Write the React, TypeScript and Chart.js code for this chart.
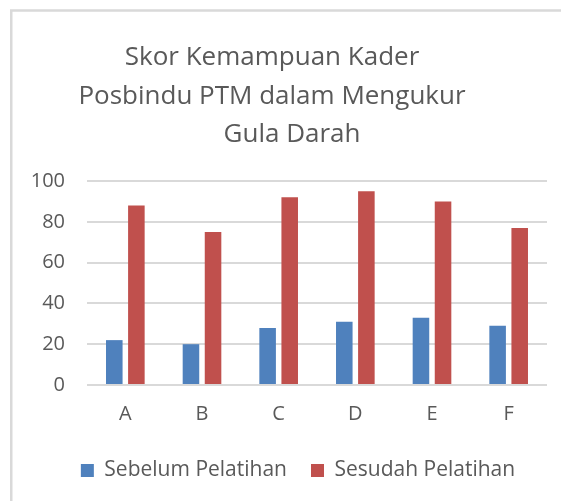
import { useEffect, useRef } from "react";
import { Chart, registerables } from "chart.js";

Chart.register(...registerables);

const categories = ["A", "B", "C", "D", "E", "F"];
const sebelumPelatihan = [22, 20, 28, 31, 33, 29];
const sesudahPelatihan = [88, 75, 92, 95, 90, 77];
const seriesNames = ["Sebelum Pelatihan", "Sesudah Pelatihan"];
const titleLines = ["Skor Kemampuan Kader", "Posbindu PTM dalam Mengukur", "Gula Darah"];
const yMin = 0;
const yMax = 100;
const yStep = 20;

const FONT = "'Open Sans', 'Noto Sans', sans-serif";
const TEXT = "#595959";

const titleCenters = [272, 272, 292];
const titleBaselines = [65, 103.5, 142];

const framePlugin = {
  id: "frame",
  afterLayout(chart: any) {
    if (chart.legend) {
      chart.legend.left += 21;
    }
  },
  beforeDraw(chart: any) {
    const ctx = chart.ctx;
    ctx.save();
    ctx.fillStyle = "#ffffff";
    ctx.fillRect(0, 0, chart.width, chart.height);
    ctx.strokeStyle = "#d9d9d9";
    ctx.lineWidth = 2.5;
    ctx.beginPath();
    ctx.moveTo(11.25, chart.height);
    ctx.lineTo(11.25, 10.5);
    ctx.lineTo(chart.width, 10.5);
    ctx.stroke();
    ctx.restore();
  },
  afterDraw(chart: any) {
    const ctx = chart.ctx;
    ctx.save();
    ctx.fillStyle = TEXT;
    ctx.font = `26px ${FONT}`;
    ctx.textAlign = "center";
    ctx.textBaseline = "alphabetic";
    titleLines.forEach((line, i) => {
      ctx.fillText(line, titleCenters[i], titleBaselines[i]);
    });
    ctx.restore();
  },
};

export default function App() {
  const ref = useRef<HTMLCanvasElement | null>(null);

  useEffect(() => {
    if (!ref.current) return;
    const chart = new Chart(ref.current, {
      type: "bar",
      data: {
        labels: categories,
        datasets: [
          {
            label: seriesNames[0],
            data: sebelumPelatihan,
            backgroundColor: "#4F81BD",
            categoryPercentage: 0.576,
            barPercentage: 0.75,
          },
          {
            label: seriesNames[1],
            data: sesudahPelatihan,
            backgroundColor: "#C0504D",
            categoryPercentage: 0.576,
            barPercentage: 0.75,
          },
        ],
      },
      options: {
        responsive: false,
        animation: false,
        layout: { padding: { top: 181, left: 28, right: 14, bottom: 10 } },
        plugins: {
          title: { display: false },
          tooltip: { enabled: false },
          legend: {
            position: "bottom",
            labels: {
              boxWidth: 13,
              boxHeight: 13,
              padding: 24,
              color: TEXT,
              font: { family: FONT, size: 21 },
            },
          },
        },
        scales: {
          x: {
            grid: { display: false },
            border: { display: false },
            ticks: { color: TEXT, font: { family: FONT, size: 20 }, padding: 9 },
            afterFit(scale: any) {
              scale.height = 51;
            },
          },
          y: {
            min: yMin,
            max: yMax,
            ticks: {
              stepSize: yStep,
              color: TEXT,
              font: { family: FONT, size: 20 },
              padding: 22,
            },
            grid: { color: "#d9d9d9", lineWidth: 2, drawTicks: false },
            border: { display: false },
            afterFit(scale: any) {
              scale.width = 59;
            },
          },
        },
      },
      plugins: [framePlugin],
    });
    return () => chart.destroy();
  }, []);

  return (
    <div style={{ position: "absolute", left: 0, top: 0, width: 561, height: 501 }}>
      <canvas ref={ref} width={561} height={501} />
    </div>
  );
}
